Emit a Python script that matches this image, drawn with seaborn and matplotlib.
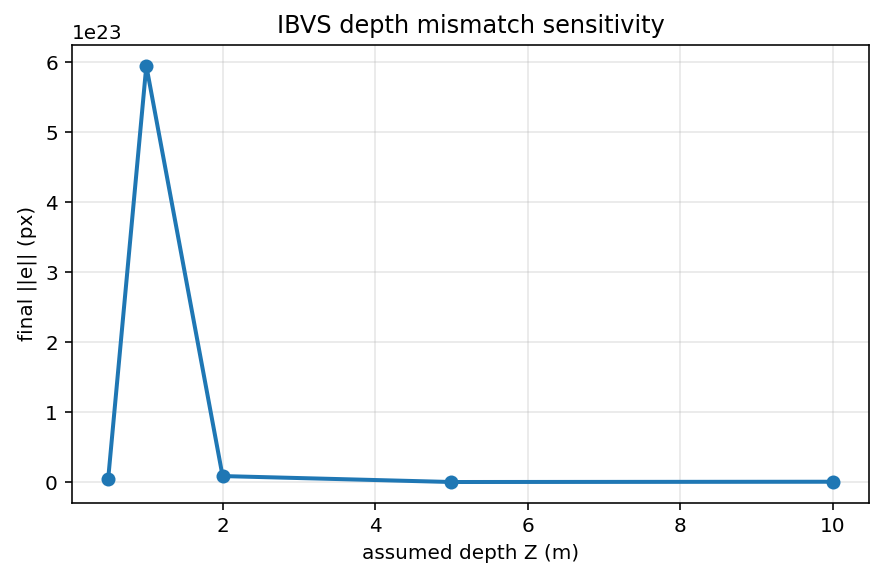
import matplotlib
matplotlib.use("Agg")
import matplotlib.pyplot as plt
import pandas as pd
import seaborn as sns

# assumed depth (m) and final error norm (px)
depth_z = [0.5, 1.0, 2.0, 5.0, 10.0]
final_err = [0.045e23, 5.95e23, 0.085e23, 0.0, 0.004e23]


def main():
    df = pd.DataFrame({"Z": depth_z, "err": final_err})

    sns.set_style("ticks", rc={"text.color": "black", "axes.labelcolor": "black",
                               "xtick.color": "black", "ytick.color": "black",
                               "axes.edgecolor": "black"})
    fig, ax = plt.subplots(figsize=(884 / 144, 584 / 144), dpi=144)

    sns.lineplot(x="Z", y="err", data=df, ax=ax, color="#1f77b4",
                 linewidth=2, marker="o", markersize=7, markeredgewidth=0)

    ax.grid(True, color="#b0b0b0", alpha=0.3, linewidth=0.8)
    for s in ax.spines.values():
        s.set_linewidth(0.8)
    ax.tick_params(axis="both", which="major", length=3.5, width=0.8)
    ax.set_xlabel("assumed depth Z (m)")
    ax.set_ylabel("final ||e|| (px)")
    ax.set_title("IBVS depth mismatch sensitivity")

    fig.subplots_adjust(left=0.0814, right=0.983, top=0.923, bottom=0.139)
    fig.savefig("out.png", dpi=144)
    plt.close(fig)


if __name__ == "__main__":
    main()
